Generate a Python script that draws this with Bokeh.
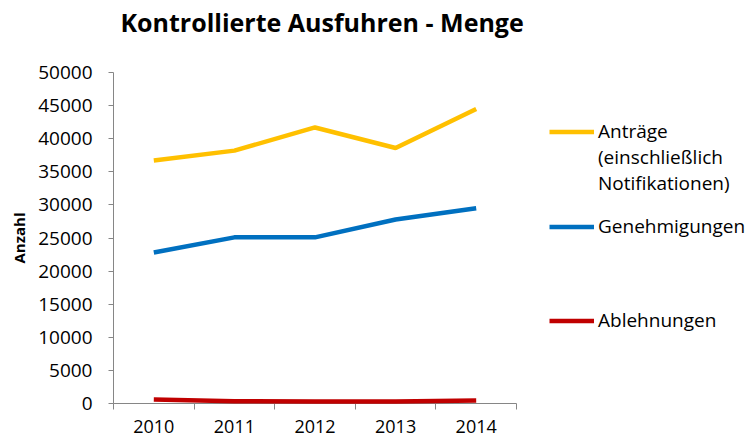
from bokeh.plotting import figure
from bokeh.models import Range1d, FixedTicker, Legend, LegendItem, ColumnDataSource
from bokeh.embed import file_html
from bokeh.resources import INLINE

title_text = "Kontrollierte Ausfuhren - Menge"
years = ["2010", "2011", "2012", "2013", "2014"]
antraege = [36700, 38200, 41700, 38600, 44500]
genehmigungen = [22800, 25100, 25100, 27800, 29500]
ablehnungen = [600, 350, 300, 300, 450]
y_ticks = list(range(0, 50001, 5000))

xs = [i + 0.5 for i in range(len(years))]
FONT = "Open Sans"

p = figure(frame_width=403, frame_height=331,
           x_range=Range1d(0, len(years)), y_range=Range1d(0, 50000),
           output_backend="svg", toolbar_location=None,
           min_border_left=113, min_border_top=72, min_border_right=230,
           min_border_bottom=36, title=title_text + "\n ")
p.title.text_font = FONT
p.title.text_font_style = "bold"
p.title.text_font_size = "25px"
p.title.text_color = "black"
p.title.align = "left"
p.title.offset = 7
p.title.standoff = 0
p.outline_line_color = None
p.xgrid.visible = False
p.ygrid.visible = False

# y axis
p.yaxis.ticker = FixedTicker(ticks=y_ticks, minor_ticks=[])
p.yaxis.axis_line_color = "#868686"
p.yaxis.major_tick_line_color = "#868686"
p.yaxis.major_tick_out = 5
p.yaxis.major_tick_in = 0
p.yaxis.major_label_text_font = FONT
p.yaxis.major_label_text_font_size = "19px"
p.yaxis.major_label_text_color = "black"
p.yaxis.major_label_standoff = 16
p.yaxis.axis_label = "Anzahl"
p.yaxis.axis_label_text_font = FONT
p.yaxis.axis_label_text_font_style = "bold"
p.yaxis.axis_label_text_font_size = "15px"
p.yaxis.axis_label_text_color = "black"
p.yaxis.axis_label_standoff = 6

# x axis: ticks at category boundaries, labels at centres
p.xaxis.ticker = FixedTicker(ticks=xs, minor_ticks=list(range(len(years) + 1)))
p.xaxis.major_label_overrides = {x: y for x, y in zip(xs, years)}
p.xaxis.axis_line_color = "#868686"
p.xaxis.major_tick_line_color = None
p.xaxis.minor_tick_line_color = "#868686"
p.xaxis.minor_tick_out = 6
p.xaxis.minor_tick_in = 0
p.xaxis.major_tick_out = 0
p.xaxis.major_tick_in = 0
p.xaxis.major_label_text_font = FONT
p.xaxis.major_label_text_font_size = "18px"
p.xaxis.major_label_text_color = "black"
p.xaxis.major_label_standoff = 10

src = ColumnDataSource(dict(x=xs, a=antraege, g=genehmigungen, r=ablehnungen))
ra = p.line("x", "a", source=src, line_color="#FFC000", line_width=4.5, level="overlay")
rg = p.line("x", "g", source=src, line_color="#0070C0", line_width=4.5, level="overlay")
rr = p.line("x", "r", source=src, line_color="#C00000", line_width=4.5, level="overlay")
# invisible renderer used for legend continuation lines / spacers
rn = p.line("x", "r", source=src, line_alpha=0)

legend = Legend(items=[
    LegendItem(label="Anträge", renderers=[ra]),
    LegendItem(label="(einschließlich", renderers=[rn]),
    LegendItem(label="Notifikationen)", renderers=[rn]),
    LegendItem(label=" ", renderers=[rn]),
    LegendItem(label="Genehmigungen", renderers=[rg]),
] + [LegendItem(label=" ", renderers=[rn]) for _ in range(4)] + [
    LegendItem(label="Ablehnungen", renderers=[rr]),
], location=(33, 70))
legend.label_text_font = FONT
legend.label_text_font_size = "19px"
legend.label_text_color = "black"
legend.label_height = 17
legend.glyph_height = 17
legend.glyph_width = 45
legend.label_standoff = 4
legend.border_line_color = None
legend.background_fill_alpha = 0
legend.margin = 0
legend.padding = 0
legend.spacing = 0
p.add_layout(legend, "right")

open("out.html", "w").write(file_html(p, INLINE))
